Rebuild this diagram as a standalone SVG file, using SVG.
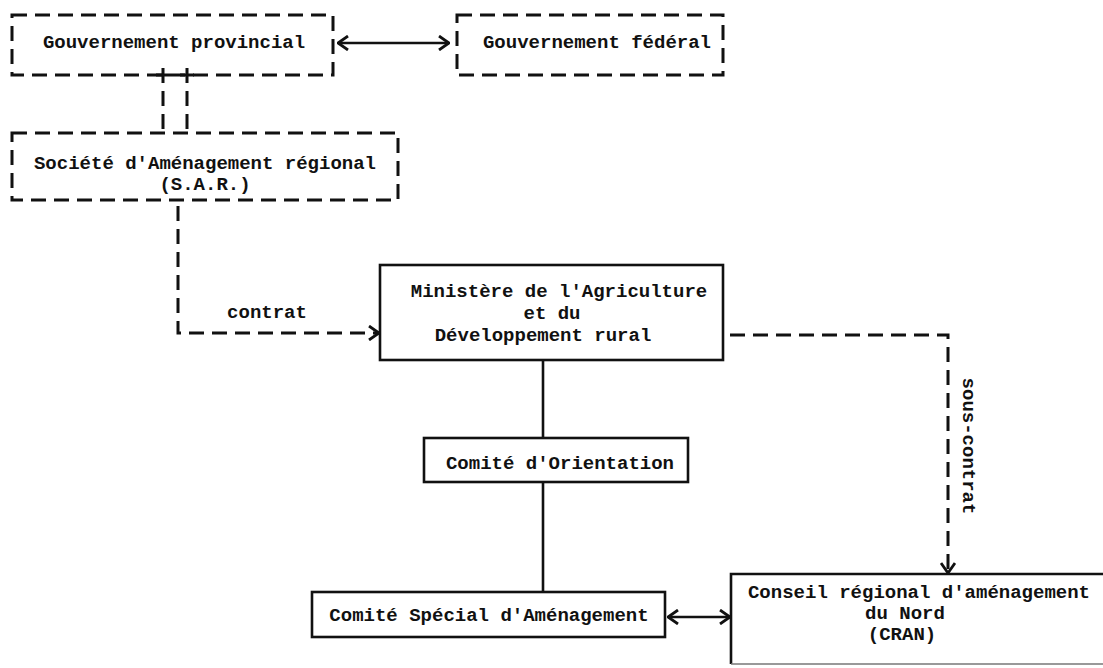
<svg xmlns="http://www.w3.org/2000/svg" width="1103" height="668" viewBox="0 0 1103 668">
<style>
.t{font-family:"Liberation Mono","DejaVu Sans Mono",monospace;font-weight:bold;font-size:19px;fill:#111;text-anchor:middle;dominant-baseline:central}
.dbox{fill:none;stroke:#111;stroke-width:3;stroke-dasharray:15 8}
.sbox{fill:none;stroke:#111;stroke-width:2.6}
.dl{fill:none;stroke:#111;stroke-width:3;stroke-dasharray:15 8}
.sl{fill:none;stroke:#111;stroke-width:2.6}
</style>
<defs>
<marker id="ah" viewBox="0 0 12 16" refX="11" refY="8" markerWidth="12" markerHeight="16" markerUnits="userSpaceOnUse" orient="auto-start-reverse">
<path d="M1,1 L11,8 L1,15" fill="none" stroke="#111" stroke-width="2.8" stroke-linejoin="miter"/>
</marker>
</defs>
<rect width="1103" height="668" fill="#fff"/>
<g id="gouv-provincial">
<rect class="dbox" x="12" y="15" width="321" height="60"/>
<text class="t" x="174" y="43">Gouvernement provincial</text>
</g>
<g id="gouv-federal">
<rect class="dbox" x="457" y="15" width="266" height="60"/>
<text class="t" x="597" y="43">Gouvernement fédéral</text>
</g>
<g id="sar">
<rect class="dbox" x="12" y="133" width="386" height="67"/>
<text class="t" x="205" y="164">Société d'Aménagement régional</text>
<text class="t" x="205" y="185">(S.A.R.)</text>
</g>
<g id="ministere">
<rect class="sbox" x="380" y="265" width="343" height="95"/>
<text class="t" x="559" y="292">Ministère de l'Agriculture</text>
<text class="t" x="552" y="314">et du</text>
<text class="t" x="543" y="336">Développement rural</text>
</g>
<g id="comite-orientation">
<rect class="sbox" x="424" y="438" width="264" height="44"/>
<text class="t" x="560" y="464">Comité d'Orientation</text>
</g>
<g id="comite-special">
<rect class="sbox" x="312" y="592" width="353" height="45"/>
<text class="t" x="489" y="616">Comité Spécial d'Aménagement</text>
</g>
<g id="cran">
<path class="sbox" d="M1110,574 H731 V664"/>
<path d="M731,664 H1103" fill="none" stroke="#777" stroke-width="1.5"/>
<text class="t" x="919" y="593">Conseil régional d'aménagement</text>
<text class="t" x="905" y="614">du Nord</text>
<text class="t" x="902" y="635">(CRAN)</text>
</g>
<g id="connectors">
<line class="sl" x1="338" y1="43" x2="449" y2="43" marker-start="url(#ah)" marker-end="url(#ah)"/>
<line class="dl" x1="163" y1="68" x2="163" y2="133"/>
<line class="dl" x1="187" y1="68" x2="187" y2="133"/>
<line x1="156" y1="75" x2="170" y2="75" stroke="#111" stroke-width="3"/>
<line x1="180" y1="75" x2="194" y2="75" stroke="#111" stroke-width="3"/>
<path class="dl" d="M178,206 V333 H379" marker-end="url(#ah)"/>
<text class="t" x="267" y="313">contrat</text>
<line class="sl" x1="543" y1="360" x2="543" y2="438"/>
<line class="sl" x1="543" y1="482" x2="543" y2="592"/>
<path class="dl" d="M730,335 H948 V573" marker-end="url(#ah)"/>
<text class="t" transform="translate(968,446) rotate(90)" x="0" y="0">sous-contrat</text>
<line class="sl" x1="668" y1="617" x2="730" y2="617" marker-start="url(#ah)" marker-end="url(#ah)"/>
</g>
</svg>
